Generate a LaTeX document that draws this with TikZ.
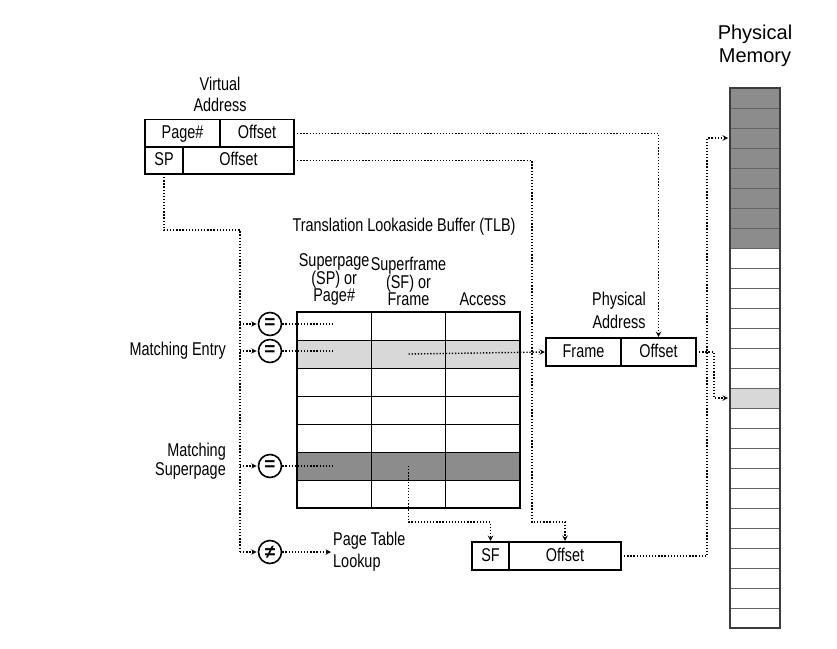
\documentclass[tikz,border=0pt]{standalone}
\usepackage{fontspec}
\setmainfont{Liberation Sans}[FakeStretch=0.78]
\newfontfamily\plainsans{Liberation Sans}
\usetikzlibrary{positioning}
\definecolor{darkfill}{RGB}{140,140,140}
\definecolor{lightfill}{RGB}{216,216,216}
\definecolor{memline}{RGB}{60,60,60}
\tikzset{
  txt/.style={align=center, inner sep=1pt, font=\fontsize{18.5}{21}\selectfont},
  cell/.style={draw, line width=1.2pt, inner sep=0pt, outer sep=0pt,
    text height=13pt, text depth=3pt,
    minimum height=28pt, font=\fontsize{18.5}{21}\selectfont},
  tlbcell/.style={draw, line width=1pt, inner sep=0pt, outer sep=0pt,
    minimum width=74.33pt, minimum height=28pt},
  memcell/.style={draw=memline!80, line width=0.9pt, inner sep=0pt, outer sep=0pt,
    minimum width=50pt, minimum height=20pt},
  eqmark/.style={circle, draw, line width=1.6pt, minimum size=23pt, inner sep=0pt,
    font=\plainsans\bfseries\fontsize{19}{19}\selectfont},
  dotline/.style={line width=1.4pt, dash pattern=on 1.3pt off 1.8pt},
  link/.style={dotline, ->, shorten >=1pt},
}
\begin{document}
\begin{tikzpicture}[x=1pt, y=-1pt, >=stealth]
  \useasboundingbox (0,0) rectangle (837,648);

  % virtual address
  \node[txt] (va-title) at (220,94) {Virtual\\Address};
  \node[cell, minimum width=75pt] (va-page) at (182.5,133.5) {Page\#};
  \node[cell, minimum width=74pt, right=0pt of va-page] (va-off) {Offset};
  \node[cell, minimum width=38pt, minimum height=27pt] (va-sp) at (164,160.5) {SP};
  \node[cell, minimum width=111pt, minimum height=27pt, right=0pt of va-sp] (va-off2) {Offset};

  % TLB
  \node[txt] (tlb-title) at (404,227) {Translation Lookaside Buffer (TLB)};
  \foreach \r/\rowfill in {1/white, 2/lightfill, 3/white, 4/white, 5/white, 6/darkfill, 7/white} {
    \foreach \c/\x in {1/334.17, 2/408.5, 3/482.83} {
      \node[tlbcell, fill=\rowfill] (tlb-\r-\c) at (\x,298+28*\r) {};
    }
  }
  \draw[line width=1.4pt] (tlb-1-1.north west) rectangle (tlb-7-3.south east);
  \node[txt, font=\fontsize{18.5}{17.5}\selectfont, anchor=south] (head-sp) at ([yshift=5pt]tlb-1-1.north) {Superpage\\(SP) or\\Page\#};
  \node[txt, font=\fontsize{18.5}{17.5}\selectfont, anchor=south] (head-sf) at ([yshift=5pt]tlb-1-2.north) {Superframe\\(SF) or\\Frame};
  \node[txt, anchor=south] (head-acc) at ([yshift=5pt]tlb-1-3.north) {Access};

  % comparators
  \node[eqmark] (eq1) at (270,324) {=};
  \node[eqmark] (eq2) at (270,351) {=};
  \node[eqmark] (eq3) at (270,466) {=};
  \node[eqmark] (neq) at (270,552) {≠};
  \node[txt, align=right, anchor=east] (lbl-entry) at (227,351) {Matching Entry};
  \node[txt, align=right, anchor=east, font=\fontsize{18.5}{19}\selectfont] (lbl-super) at (227,461) {Matching\\Superpage};
  \node[txt, align=left, anchor=west, font=\fontsize{18.5}{22}\selectfont] (ptl) at (332,552) {Page Table\\Lookup};

  % physical address
  \node[txt, font=\fontsize{18.5}{23}\selectfont] (pa-title) at (619,310) {Physical\\Address};
  \node[cell, minimum width=75pt] (pa-frame) at (583.5,352) {Frame};
  \node[cell, minimum width=75pt, right=0pt of pa-frame] (pa-off) {Offset};

  % superframe address
  \node[cell, minimum width=37pt] (sf-sf) at (490.5,556) {SF};
  \node[cell, minimum width=112pt, right=0pt of sf-sf] (sf-off) {Offset};

  % physical memory
  \node[align=center, inner sep=0pt, font=\plainsans\fontsize{20}{23}\selectfont] (mem-title) at (755,46) {Physical\\Memory};
  \foreach \i in {0,...,26} {
    \ifnum\i<8 \def\memfill{darkfill}\else\ifnum\i=15 \def\memfill{lightfill}\else\def\memfill{white}\fi\fi
    \node[memcell, fill=\memfill] (mem-\i) at (755,98+20*\i) {};
  }
  \draw[line width=2.2pt, memline] (mem-0.north west) rectangle (mem-26.south east);

  % connectors
  \coordinate (trunk-top) at (240,230);
  \coordinate (trunk-bot) at (240,552);
  \draw[dotline] (va-sp.south) |- (trunk-top) -- (trunk-bot);
  \foreach \e in {eq1,eq2,eq3,neq}
    \draw[link] (\e.west -| trunk-top) -- (\e.west);
  \foreach \e in {eq1,eq2,eq3}
    \draw[dotline] (\e.east) -- ++(52,0);
  \draw[link] (neq.east) -- (ptl.west);

  \draw[link] (va-off.east) -| (pa-off.north);
  \coordinate (sf-bend) at (532,522);
  \draw[link] (va-off2.east) -| (sf-bend) -| (sf-off.north);
  \draw[link] (tlb-2-2.center) -- (pa-frame.west);
  \draw[link] (tlb-6-2.center) |- (sf-bend -| sf-sf.north) -- (sf-sf.north);

  \draw[link, shorten >=2pt] (pa-off.east) -| ([xshift=-16pt]mem-15.west) -- (mem-15.west);
  \draw[link, shorten >=2pt] (sf-off.east) -| ([xshift=-23pt]mem-2.west) -- (mem-2.west);
\end{tikzpicture}
\end{document}
